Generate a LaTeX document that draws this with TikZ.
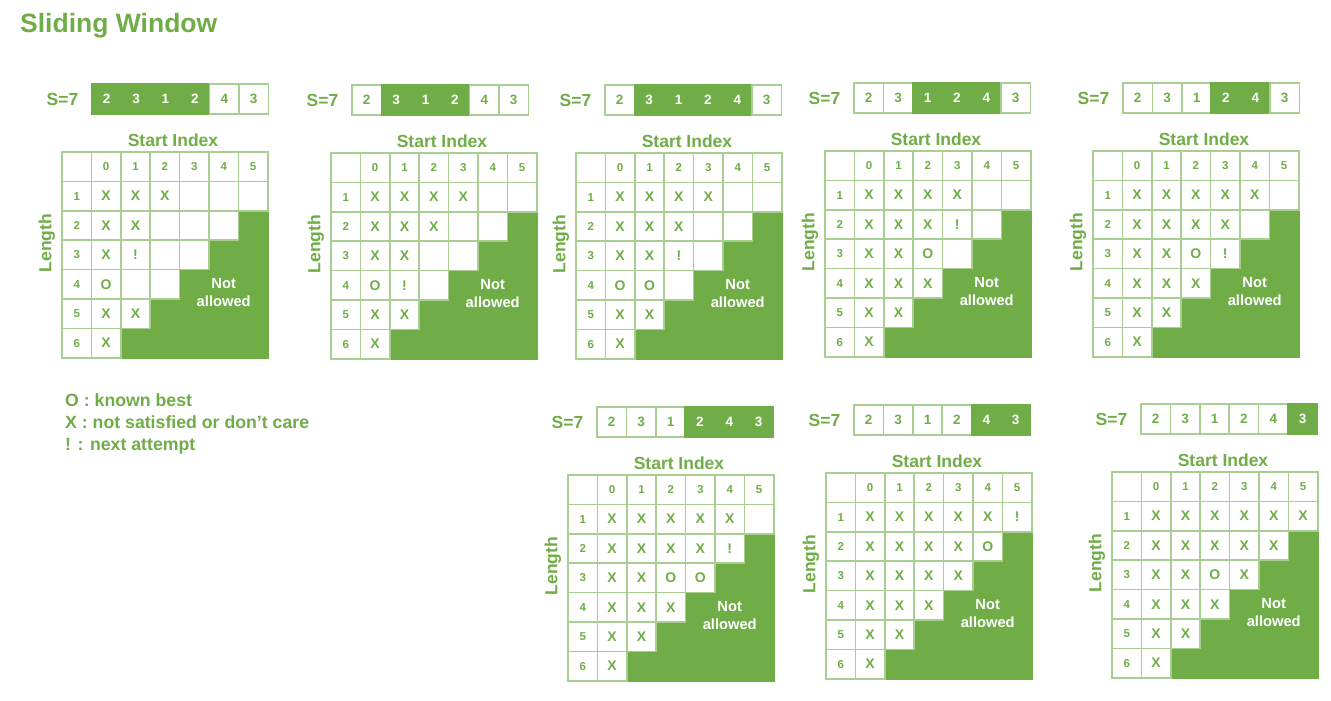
\documentclass[tikz,border=0pt]{standalone}
\usepackage{fontspec}
\setmainfont{Liberation Sans}
\definecolor{leaf}{HTML}{70AD47}
\colorlet{leafline}{leaf!60}

\newcommand{\slidepanel}[7]{%
  \begin{scope}[shift={(#2,#3)}]
    \node[sumtext] (#1-s) at (#4-29.5,-53) {S=7};
    \foreach \v [count=\i from 0] in {2,3,1,2,4,3} {
      \def\look{arrin}
      \ifnum\i<#5 \def\look{arrout}\fi
      \ifnum\i>#6 \def\look{arrout}\fi
      \node[\look] (#1-a\i) at ({#4+\i*29.4+14.7},-53) {\v};
    }
    \node[sumtext, anchor=base] (#1-start) at (111,-6) {Start Index};
    \node[sumtext, rotate=90] (#1-len) at (-15,91) {Length};
    \foreach \row in {0,...,6}
      \foreach \col in {0,...,6} {
        \ifnum\numexpr\col+\row\relax>7
          \node[shutcell] (#1-g\col-\row) at ({\col*29.4+14.7},{\row*29.4+14.7}) {};
        \fi
      }
    \foreach \row in {0,...,6}
      \foreach \col in {0,...,6} {
        \ifnum\numexpr\col+\row\relax<8
          \node[opencell] (#1-g\col-\row) at ({\col*29.4+14.7},{\row*29.4+14.7}) {};
        \fi
      }
    \foreach \col in {0,...,5}
      \node[headnum] (#1-h\col) at ({(\col+1)*29.4+14.7},14.7) {\col};
    \foreach \row in {1,...,6}
      \node[headnum] (#1-l\row) at (14.7,{\row*29.4+14.7}) {\row};
    \foreach \col/\row/\sym in {#7}
      \node[markx] (#1-m\col-\row) at ({(\col+1)*29.4+14.7},{\row*29.4+14.7}) {\sym};
    \node[blocked] (#1-na) at (161.7,141) {Not\\allowed};
  \end{scope}
}

\begin{document}
\begin{tikzpicture}[x=1pt, y=-1pt,
  sumtext/.style={text=leaf, font=\bfseries\fontsize{17.5}{21}\selectfont},
  arrbox/.style={line width=1.5pt, minimum width=29.4pt, minimum height=30pt,
    inner sep=0pt, font=\bfseries\fontsize{13.5}{16}\selectfont},
  arrin/.style={arrbox, draw=leaf, fill=leaf, text=white},
  arrout/.style={arrbox, draw=leafline, fill=white, text=leaf},
  opencell/.style={draw=leafline, fill=white, line width=1.5pt, minimum size=29.4pt, inner sep=0pt},
  shutcell/.style={draw=leaf, fill=leaf, line width=1.5pt, minimum size=29.4pt, inner sep=0pt},
  headnum/.style={text=leaf, font=\bfseries\fontsize{11.5}{13}\selectfont},
  markx/.style={text=leaf, font=\bfseries\fontsize{14}{16}\selectfont},
  blocked/.style={text=white, align=center, font=\bfseries\fontsize{14.7}{18}\selectfont},
  keytext/.style={anchor=base west, inner sep=0pt, text=leaf, font=\bfseries\fontsize{17.7}{21}\selectfont}]

	\useasboundingbox (0,0) rectangle (1331,701);
	\fill[white] (0,0) rectangle (1331,701);

	\node[anchor=base west, inner sep=0pt, text=leaf, font=\bfseries\fontsize{26.5}{30}\selectfont] (title) at (20,33) {Sliding Window};

	\slidepanel{p1}{62}{152}{30}{0}{3}{0/1/X,1/1/X,2/1/X, 0/2/X,1/2/X, 0/3/X,1/3/!, 0/4/O, 0/5/X,1/5/X, 0/6/X}
	\slidepanel{p2}{331}{153}{21}{1}{3}{0/1/X,1/1/X,2/1/X,3/1/X, 0/2/X,1/2/X,2/2/X, 0/3/X,1/3/X, 0/4/O,1/4/!, 0/5/X,1/5/X, 0/6/X}
	\slidepanel{p3}{576}{153}{29}{1}{4}{0/1/X,1/1/X,2/1/X,3/1/X, 0/2/X,1/2/X,2/2/X, 0/3/X,1/3/X,2/3/!, 0/4/O,1/4/O, 0/5/X,1/5/X, 0/6/X}
	\slidepanel{p4}{825}{151}{29}{2}{4}{0/1/X,1/1/X,2/1/X,3/1/X, 0/2/X,1/2/X,2/2/X,3/2/!, 0/3/X,1/3/X,2/3/O, 0/4/X,1/4/X,2/4/X, 0/5/X,1/5/X, 0/6/X}
	\slidepanel{p5}{1093}{151}{30}{3}{4}{0/1/X,1/1/X,2/1/X,3/1/X,4/1/X, 0/2/X,1/2/X,2/2/X,3/2/X, 0/3/X,1/3/X,2/3/O,3/3/!, 0/4/X,1/4/X,2/4/X, 0/5/X,1/5/X, 0/6/X}
	\slidepanel{p6}{568}{475}{29}{3}{5}{0/1/X,1/1/X,2/1/X,3/1/X,4/1/X, 0/2/X,1/2/X,2/2/X,3/2/X,4/2/!, 0/3/X,1/3/X,2/3/O,3/3/O, 0/4/X,1/4/X,2/4/X, 0/5/X,1/5/X, 0/6/X}
	\slidepanel{p7}{826}{473}{28}{4}{5}{0/1/X,1/1/X,2/1/X,3/1/X,4/1/X,5/1/!, 0/2/X,1/2/X,2/2/X,3/2/X,4/2/O, 0/3/X,1/3/X,2/3/X,3/3/X, 0/4/X,1/4/X,2/4/X, 0/5/X,1/5/X, 0/6/X}
	\slidepanel{p8}{1112}{472}{29}{5}{5}{0/1/X,1/1/X,2/1/X,3/1/X,4/1/X,5/1/X, 0/2/X,1/2/X,2/2/X,3/2/X,4/2/X, 0/3/X,1/3/X,2/3/O,3/3/X, 0/4/X,1/4/X,2/4/X, 0/5/X,1/5/X, 0/6/X}

	\node[keytext] (key-o) at (65,406.5) {O : known best};
	\node[keytext] (key-x) at (65,428) {X : not satisfied or don’t care};
	\node[keytext] (key-n) at (65,450) {! : next attempt};

\end{tikzpicture}
\end{document}
